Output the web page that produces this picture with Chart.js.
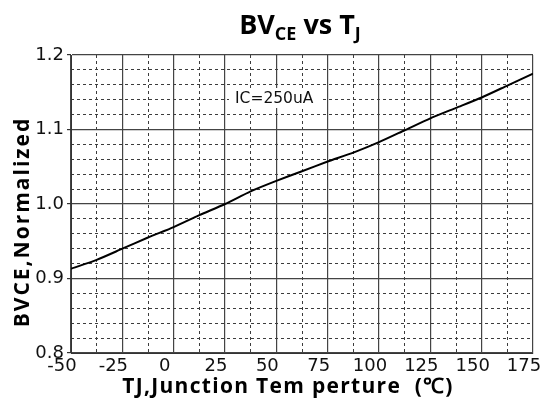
<!DOCTYPE html>
<html>
<head>
<meta charset="utf-8">
<script src="https://cdn.jsdelivr.net/npm/chart.js@4.4.1/dist/chart.umd.min.js"></script>
<style>
  html, body { margin: 0; padding: 0; background: #fff; }
  #wrap { width: 545px; height: 412px; }
</style>
</head>
<body>
<div id="wrap"><canvas id="bvChart" width="545" height="412"></canvas></div>
<script>
// junction temperature (C) and normalized BVCE
var tempC = [-50, -37.5, -25, -12.5, 0, 12.5, 25, 37.5, 50, 62.5, 75, 87.5, 100, 112.5, 125, 137.5, 150, 162.5, 175];
var bvceNorm = [0.913, 0.925, 0.940, 0.955, 0.969, 0.985, 1.000, 1.017, 1.031, 1.044, 1.057, 1.069, 1.083, 1.099, 1.115, 1.129, 1.143, 1.159, 1.175];

// axis ticks
var xTickLabels = ['-50', '-25', '0', '25', '50', '75', '100', '125', '150', '175'];
var yTickLabels = ['0.8', '0.9', '1.0', '1.1', '1.2'];

var titleText = ['BV', 'CE', ' vs T', 'J'];
var xTitle = 'TJ,Junction Tem perture  (\u2103)';
var yTitle = 'BVCE,Normalized';
var noteText = 'IC=250uA';

var points = tempC.map(function (t, i) { return { x: t, y: bvceNorm[i] }; });

function isMajor(v, step) {
  var r = v / step;
  return Math.abs(r - Math.round(r)) < 1e-6;
}

// titles and the IC note, drawn on top of the chart
var textPlugin = {
  id: 'textPlugin',
  afterDraw: function (chart) {
    var ctx = chart.ctx;
    ctx.save();
    ctx.fillStyle = '#000';
    ctx.textBaseline = 'alphabetic';

    // main title with subscripts
    var big = 'bold 27px "Open Sans"';
    var small = 'bold 18px "Open Sans"';
    var parts = [[titleText[0], big, 0], [titleText[1], small, 6], [titleText[2], big, 0], [titleText[3], small, 6]];
    var total = 0;
    parts.forEach(function (p) { ctx.font = p[1]; total += ctx.measureText(p[0]).width; });
    var x = 300 - total / 2;
    parts.forEach(function (p) {
      ctx.font = p[1];
      ctx.fillText(p[0], x, 34 + p[2]);
      x += ctx.measureText(p[0]).width;
    });

    // axis titles (letter spacing to match the wide lettering)
    ctx.font = 'bold 21px "Open Sans"';
    ctx.textAlign = 'center';
    ctx.textBaseline = 'middle';
    ctx.letterSpacing = '1.3px';
    ctx.fillText(xTitle, 288, 387);
    ctx.save();
    ctx.translate(23, 222);
    ctx.rotate(-Math.PI / 2);
    ctx.letterSpacing = '2px';
    ctx.fillText(yTitle, 0, 0);
    ctx.restore();
    ctx.letterSpacing = '0px';

    // note with white box
    ctx.fillStyle = '#fff';
    ctx.fillRect(229, 88, 91, 20);
    ctx.fillStyle = '#111';
    ctx.font = '15.5px "DejaVu Sans"';
    ctx.textAlign = 'left';
    ctx.textBaseline = 'alphabetic';
    ctx.fillText(noteText, 235, 103);
    ctx.restore();
  }
};

var ctx = document.getElementById('bvChart').getContext('2d');

var bvChart = new Chart(ctx, {
  type: 'scatter',
  data: {
    datasets: [{
      data: points,
      showLine: true,
      borderColor: '#000',
      borderWidth: 2,
      pointRadius: 0,
      tension: 0.2,
      xAxisID: 'x',
      yAxisID: 'y'
    }]
  },
  options: {
    responsive: false,
    animation: false,
    devicePixelRatio: 1,
    layout: { padding: { top: 55, right: 12, left: 0, bottom: 0 } },
    plugins: {
      legend: { display: false },
      tooltip: { enabled: false }
    },
    scales: {
      x2: {
        type: 'linear',
        position: 'bottom',
        min: -50, max: 175,
        ticks: { stepSize: 12.5, display: false, autoSkip: false },
        border: { display: false, dash: [3, 3] },
        grid: {
          drawTicks: false,
          color: function (c) { return isMajor(c.tick.value, 25) ? 'rgba(0,0,0,0)' : '#3c3c3c'; },
          lineWidth: 1
        },
        afterFit: function (s) { s.height = 0; s.paddingLeft = 0; s.paddingRight = 0; }
      },
      y2: {
        type: 'linear',
        position: 'left',
        min: 0.8, max: 1.2,
        ticks: { stepSize: 0.02, display: false, autoSkip: false },
        border: { display: false, dash: [3, 3] },
        grid: {
          drawTicks: false,
          color: function (c) { return isMajor(c.tick.value, 0.1) ? 'rgba(0,0,0,0)' : '#3c3c3c'; },
          lineWidth: 1
        },
        afterFit: function (s) { s.width = 0; s.paddingTop = 0; s.paddingBottom = 0; }
      },
      x: {
        type: 'linear',
        position: 'bottom',
        min: -50, max: 175,
        ticks: {
          stepSize: 25,
          autoSkip: false,
          padding: 3,
          labelOffset: -9,
          color: '#111',
          font: { family: '"DejaVu Sans"', size: 18 },
          callback: function (v) { return xTickLabels[Math.round((v + 50) / 25)]; }
        },
        border: { display: true, color: '#333', width: 1 },
        grid: { drawTicks: false, color: '#444', lineWidth: 1.2 },
        afterFit: function (s) { s.height = 59; s.paddingLeft = 0; s.paddingRight = 0; }
      },
      y: {
        type: 'linear',
        position: 'left',
        min: 0.8, max: 1.2,
        ticks: {
          stepSize: 0.1,
          autoSkip: false,
          padding: 3,
          color: '#111',
          font: { family: '"DejaVu Sans"', size: 18 },
          callback: function (v) { return yTickLabels[Math.round((v - 0.8) / 0.1)]; }
        },
        border: { display: true, color: '#333', width: 1 },
        grid: { drawTicks: true, tickLength: 4, color: '#444', tickColor: '#333', lineWidth: 1.2 },
        afterFit: function (s) { s.width = 71; s.paddingTop = 0; s.paddingBottom = 0; }
      }
    }
  },
  plugins: [textPlugin]
});
</script>
</body>
</html>
